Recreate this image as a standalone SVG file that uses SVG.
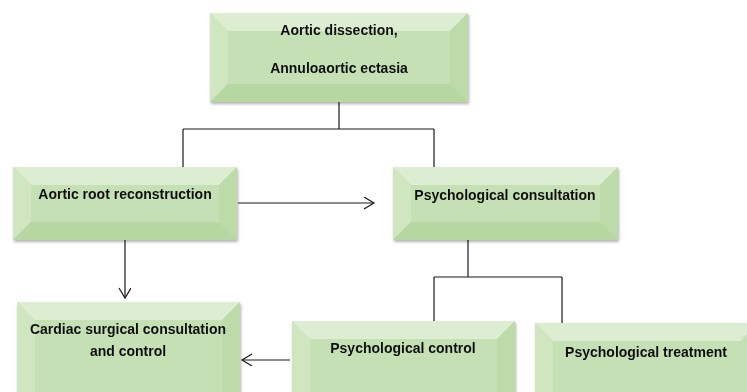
<svg xmlns="http://www.w3.org/2000/svg" width="747" height="392" viewBox="0 0 747 392">
<defs>
<style>
.face{fill:#c5e0b4}
.bt{fill:#dcedd1}
.bl{fill:#cfe6c1}
.br{fill:#bddaa9}
.bb{fill:#b6d6a2}
.lbl{font-family:"Liberation Sans",Arial,sans-serif;font-weight:bold;font-size:14px;fill:#111;text-anchor:middle}
.con{fill:none;stroke:#1a1a1a;stroke-width:1.2}
</style>
<filter id="sh" x="-10%" y="-10%" width="120%" height="130%">
<feDropShadow dx="1" dy="2" stdDeviation="1.5" flood-color="#000" flood-opacity="0.3"/>
</filter>
<marker id="arr" markerUnits="userSpaceOnUse" markerWidth="14" markerHeight="14" refX="11" refY="6" orient="auto">
<path d="M1,0 L11,6 L1,12" fill="none" stroke="#1a1a1a" stroke-width="1.2"/>
</marker>
</defs>
<rect width="747" height="392" fill="#fff"/>

<g id="connectors">
<path class="con" d="M339,102 V129 M183,129 H434 M183,129 V167 M434,129 V167"/>
<path class="con" d="M468,240 V277 M434,277 H562 M434,277 V321 M562,277 V323"/>
<line class="con" x1="238" y1="203" x2="374" y2="203" marker-end="url(#arr)"/>
<line class="con" x1="125" y1="240" x2="125" y2="298" marker-end="url(#arr)"/>
<line class="con" x1="290" y1="360" x2="242" y2="360" marker-end="url(#arr)"/>
</g>

<g id="node-aortic-dissection" filter="url(#sh)">
<rect class="face" x="210" y="13" width="258" height="89"/>
<polygon class="bt" points="210,13 468,13 450,31 228,31"/>
<polygon class="bl" points="210,13 228,31 228,84 210,102"/>
<polygon class="br" points="468,13 468,102 450,84 450,31"/>
<polygon class="bb" points="210,102 468,102 450,84 228,84"/>
<text class="lbl" x="339" y="35">Aortic dissection,</text>
<text class="lbl" x="339" y="73">Annuloaortic ectasia</text>
</g>

<g id="node-aortic-root" filter="url(#sh)">
<rect class="face" x="13" y="167" width="224" height="73"/>
<polygon class="bt" points="13,167 237,167 219,185 31,185"/>
<polygon class="bl" points="13,167 31,185 31,222 13,240"/>
<polygon class="br" points="237,167 237,240 219,222 219,185"/>
<polygon class="bb" points="13,240 237,240 219,222 31,222"/>
<text class="lbl" x="125" y="199">Aortic root reconstruction</text>
</g>

<g id="node-psych-consultation" filter="url(#sh)">
<rect class="face" x="393" y="167" width="225" height="73"/>
<polygon class="bt" points="393,167 618,167 600,185 411,185"/>
<polygon class="bl" points="393,167 411,185 411,222 393,240"/>
<polygon class="br" points="618,167 618,240 600,222 600,185"/>
<polygon class="bb" points="393,240 618,240 600,222 411,222"/>
<text class="lbl" x="505" y="200">Psychological consultation</text>
</g>

<g id="node-cardiac" filter="url(#sh)">
<rect class="face" x="17" y="302" width="223" height="110"/>
<polygon class="bt" points="17,302 240,302 222,320 35,320"/>
<polygon class="bl" points="17,302 35,320 35,394 17,412"/>
<polygon class="br" points="240,302 240,412 222,394 222,320"/>
<text class="lbl" x="128" y="334">Cardiac surgical consultation</text>
<text class="lbl" x="128" y="356">and control</text>
</g>

<g id="node-psych-control" filter="url(#sh)">
<rect class="face" x="292" y="321" width="223" height="110"/>
<polygon class="bt" points="292,321 515,321 497,339 310,339"/>
<polygon class="bl" points="292,321 310,339 310,413 292,431"/>
<polygon class="br" points="515,321 515,431 497,413 497,339"/>
<text class="lbl" x="403" y="353">Psychological control</text>
</g>

<g id="node-psych-treatment" filter="url(#sh)">
<rect class="face" x="535" y="323" width="223" height="110"/>
<polygon class="bt" points="535,323 758,323 740,341 553,341"/>
<polygon class="bl" points="535,323 553,341 553,415 535,433"/>
<text class="lbl" x="646" y="357">Psychological treatment</text>
</g>
</svg>
